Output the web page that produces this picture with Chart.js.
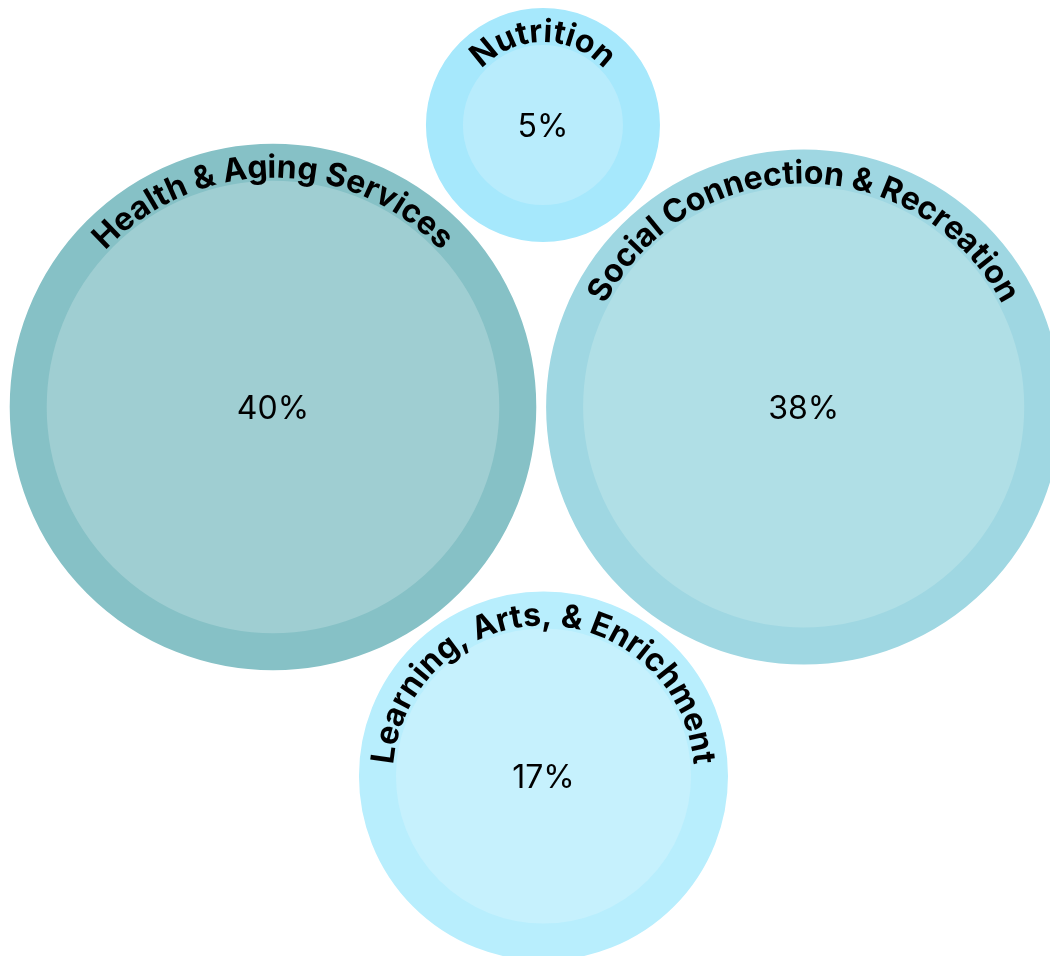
<!DOCTYPE html>
<html>
<head>
<meta charset="utf-8">
<script src="https://cdn.jsdelivr.net/npm/chart.js@4"></script>
<style>
  html, body { margin: 0; padding: 0; background: #fff; }
  canvas { display: block; }
</style>
</head>
<body>
<canvas id="bubbleChart" width="1050" height="956"></canvas>
<script>
// Share of programs by category (percent)
const categories = ['Nutrition', 'Health & Aging Services', 'Social Connection & Recreation', 'Learning, Arts, & Enrichment'];
const shares = [5, 40, 38, 17];

// Bubble centres on a 0-100 grid
const bubbleX = [51.71, 26.0, 76.54, 51.76];
const bubbleY = [13.08, 42.57, 42.57, 81.17];

const innerColors = ['#b8ecfc', '#9fced2', '#b0dfe6', '#c6f1fd'];
const ringColors = ['#a6e8fc', '#86c1c6', '#9fd7e2', '#b8eefd'];

const RADIUS_PER_SQRT = 35.78; // inner circle area follows the share
const RING = 37;

function innerRadius(v) {
    return RADIUS_PER_SQRT * Math.sqrt(v);
}

// Curved category names along the top of each ring, plus the share in the middle
const bubbleLabels = {
    id: 'bubbleLabels',
    afterDatasetsDraw(chart) {
        const ctx = chart.ctx;
        const meta = chart.getDatasetMeta(0);
        meta.data.forEach((pt, i) => {
            const cx = pt.x, cy = pt.y;
            const inner = innerRadius(shares[i]);

            ctx.save();
            ctx.fillStyle = '#000';
            ctx.font = '400 32px Inter, "Noto Sans", sans-serif';
            ctx.textAlign = 'center';
            ctx.textBaseline = 'middle';
            ctx.fillText(shares[i] + '%', cx, cy + 2);

            // arc text
            const text = categories[i];
            const R = inner + 3;
            ctx.font = '700 32px Inter, "Noto Sans", sans-serif';
            ctx.textBaseline = 'alphabetic';
            const total = ctx.measureText(text).width;
            let start = -Math.PI / 2 - total / (2 * R);
            for (let k = 0; k < text.length; k++) {
                const before = ctx.measureText(text.slice(0, k)).width;
                const w = ctx.measureText(text[k]).width;
                const a = start + (before + w / 2) / R;
                ctx.save();
                ctx.translate(cx + R * Math.cos(a), cy + R * Math.sin(a));
                ctx.rotate(a + Math.PI / 2);
                ctx.fillText(text[k], 0, 0);
                ctx.restore();
            }
            ctx.restore();
        });
    }
};

const ctx = document.getElementById('bubbleChart').getContext('2d');

new Chart(ctx, {
    type: 'bubble',
    data: {
        datasets: [{
            data: shares.map((v, i) => ({
                x: bubbleX[i],
                y: bubbleY[i],
                r: innerRadius(v) + RING / 2
            })),
            backgroundColor: innerColors,
            borderColor: ringColors,
            borderWidth: RING,
            hoverBorderWidth: RING,
            clip: false
        }]
    },
    options: {
        responsive: false,
        animation: false,
        events: [],
        layout: {
            autoPadding: false,
            padding: 0
        },
        plugins: {
            legend: { display: false },
            tooltip: { enabled: false }
        },
        scales: {
            x: { type: 'linear', min: 0, max: 100, display: false },
            y: { type: 'linear', min: 0, max: 100, reverse: true, display: false }
        }
    },
    plugins: [bubbleLabels]
});
</script>
</body>
</html>
